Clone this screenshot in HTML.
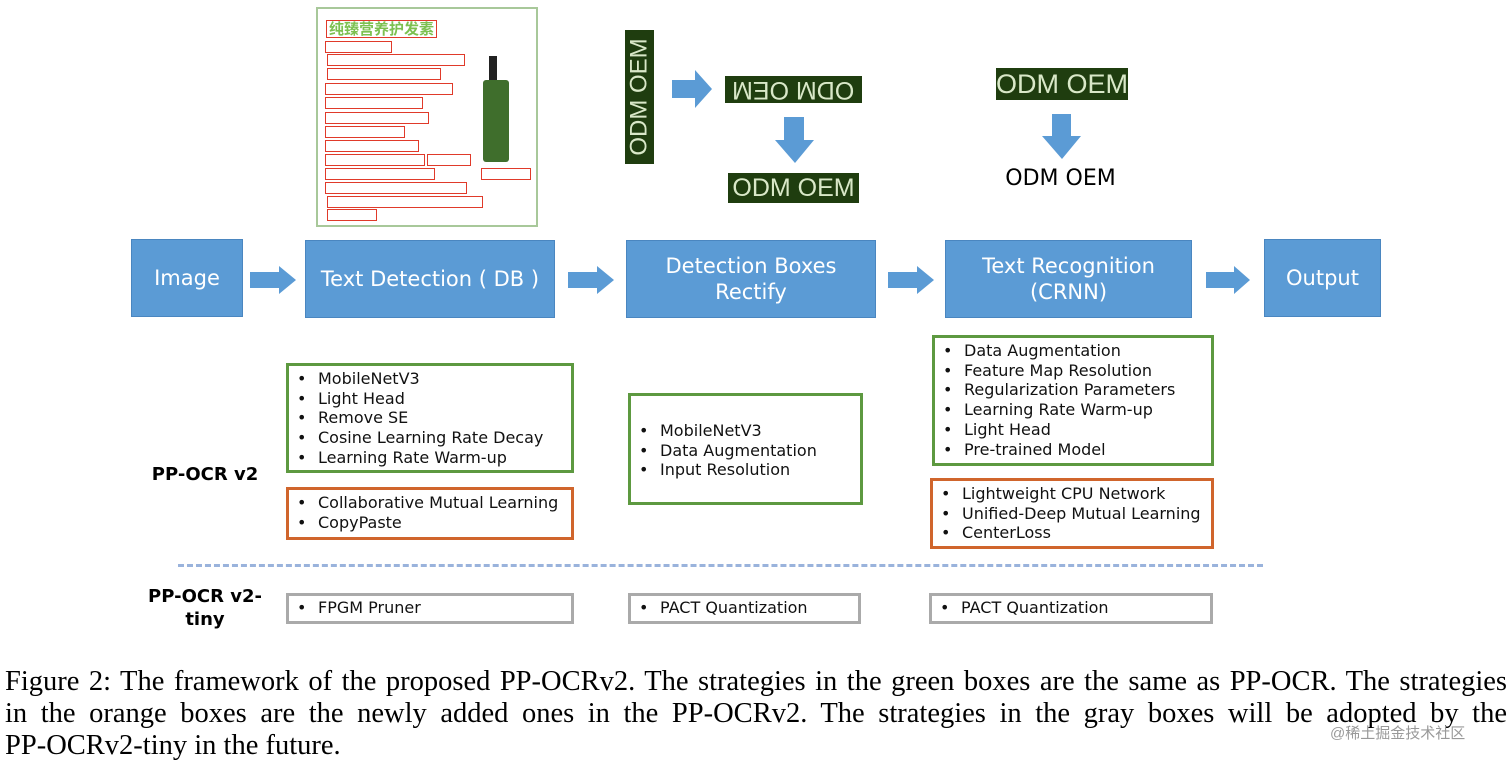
<!DOCTYPE html>
<html><head><meta charset="utf-8"><style>
body{margin:0;width:1512px;height:763px;background:#fff;position:relative;overflow:hidden;font-family:"DejaVu Sans","Liberation Sans",sans-serif}
.a{position:absolute}
.bb{position:absolute;background:#5b9bd5;border:1px solid #4a86c0;color:#fff;font-size:21px;display:flex;align-items:center;justify-content:center;text-align:center;line-height:26px;box-sizing:border-box}
.box{position:absolute;box-sizing:border-box;border:3px solid;font-size:16px;color:#111;line-height:19.7px;padding-left:7px}
.box div{position:relative;padding-left:22px;white-space:nowrap}
.box div:before{content:"•";position:absolute;left:1px}
.g{border-color:#5d9940}.o{border-color:#d0652c}.y{border-color:#aaa}
.odm{position:absolute;background:#1f3d0f;color:#d9e8c8;font-size:25px;font-family:"Liberation Sans",sans-serif;display:flex;align-items:center;justify-content:center;white-space:nowrap;overflow:hidden}
.lab{position:absolute;font-weight:bold;font-size:18px;color:#000;text-align:center}
.cap{position:absolute;left:5px;width:1502px;font-family:"Liberation Serif",serif;font-size:28.5px;color:#000;text-align:justify;text-align-last:justify;white-space:nowrap;line-height:32px}
.rb{position:absolute;border:1.5px solid #e03a2a;height:10px}
</style></head><body>

<div class="a" style="left:316px;top:7px;width:222px;height:220px;border:2px solid #a8c89a;box-sizing:border-box"></div>
<div class="a" style="left:326px;top:20px;font-size:15px;font-weight:bold;color:#7cc050;font-family:'Noto Sans CJK SC',sans-serif;border:1.5px solid #e03a2a;padding:0 2px;line-height:16px">纯臻营养护发素</div>
<div class="rb" style="left:325px;top:41px;width:65px"></div>
<div class="rb" style="left:327px;top:54px;width:136px"></div>
<div class="rb" style="left:327px;top:68px;width:112px"></div>
<div class="rb" style="left:325px;top:83px;width:126px"></div>
<div class="rb" style="left:325px;top:97px;width:96px"></div>
<div class="rb" style="left:325px;top:112px;width:102px"></div>
<div class="rb" style="left:325px;top:126px;width:78px"></div>
<div class="rb" style="left:325px;top:140px;width:92px"></div>
<div class="rb" style="left:325px;top:154px;width:98px"></div>
<div class="rb" style="left:427px;top:154px;width:42px"></div>
<div class="rb" style="left:325px;top:168px;width:108px"></div>
<div class="rb" style="left:481px;top:168px;width:48px"></div>
<div class="rb" style="left:325px;top:182px;width:140px"></div>
<div class="rb" style="left:327px;top:196px;width:154px"></div>
<div class="rb" style="left:327px;top:209px;width:48px"></div>
<div class="a" style="left:489px;top:56px;width:8px;height:30px;background:#222"></div>
<div class="a" style="left:483px;top:80px;width:26px;height:82px;background:#3f6e2c;border-radius:3px"></div>

<div class="odm" style="left:625px;top:30px;width:29px;height:134px"><span style="transform:rotate(-90deg);font-size:24px">ODM OEM</span></div>
<div class="odm" style="left:725px;top:76px;width:137px;height:27px"><span style="transform:scale(-1,-1)">ODM OEM</span></div>
<div class="odm" style="left:728px;top:173px;width:131px;height:30px">ODM OEM</div>
<div class="odm" style="left:996px;top:68px;width:132px;height:32px;font-size:27px">ODM OEM</div>
<div class="a" style="left:988px;top:166px;width:145px;text-align:center;font-size:22px;color:#000">ODM OEM</div>
<svg class="a" style="left:0;top:0" width="1512" height="330">
<g fill="#5b9bd5">
<polygon points="672,80 695,80 695,70 712,89 695,108 695,98 672,98"/>
<polygon points="784,117 804,117 804,140 814,140 795,163 775,140 784,140"/>
<polygon points="1052,114 1071,114 1071,136 1081,136 1062,159 1042,136 1052,136"/>
<polygon points="250,272 279,272 279,266 296,280 279,294 279,288 250,288"/>
<polygon points="568,272 597,272 597,266 614,280 597,294 597,288 568,288"/>
<polygon points="888,272 917,272 917,266 934,280 917,294 917,288 888,288"/>
<polygon points="1206,272 1234,272 1234,266 1250,280 1234,294 1234,288 1206,288"/>
</g></svg>

<div class="bb" style="left:131px;top:239px;width:112px;height:78px">Image</div>
<div class="bb" style="left:305px;top:240px;width:250px;height:78px">Text Detection ( DB )</div>
<div class="bb" style="left:626px;top:240px;width:250px;height:78px">Detection Boxes<br>Rectify</div>
<div class="bb" style="left:945px;top:240px;width:247px;height:78px">Text Recognition<br>(CRNN)</div>
<div class="bb" style="left:1264px;top:239px;width:117px;height:78px">Output</div>

<div class="box g" style="left:286px;top:363px;width:288px;height:110px;padding-top:3px"><div>MobileNetV3</div><div>Light Head</div><div>Remove SE</div><div>Cosine Learning Rate Decay</div><div>Learning Rate Warm-up</div></div>
<div class="box o" style="left:286px;top:487px;width:288px;height:53px;padding-top:3px"><div>Collaborative Mutual Learning</div><div>CopyPaste</div></div>
<div class="box g" style="left:628px;top:393px;width:235px;height:112px;padding-top:25px"><div>MobileNetV3</div><div>Data Augmentation</div><div>Input Resolution</div></div>
<div class="box g" style="left:932px;top:335px;width:282px;height:131px;padding-top:3px"><div>Data Augmentation</div><div>Feature Map Resolution</div><div>Regularization Parameters</div><div>Learning Rate Warm-up</div><div>Light Head</div><div>Pre-trained Model</div></div>
<div class="box o" style="left:930px;top:478px;width:284px;height:71px;padding-top:3px"><div>Lightweight CPU Network</div><div>Unified-Deep Mutual Learning</div><div>CenterLoss</div></div>
<div class="box y" style="left:286px;top:593px;width:288px;height:31px;padding-top:2px"><div>FPGM Pruner</div></div>
<div class="box y" style="left:628px;top:593px;width:233px;height:31px;padding-top:2px"><div>PACT Quantization</div></div>
<div class="box y" style="left:929px;top:593px;width:284px;height:31px;padding-top:2px"><div>PACT Quantization</div></div>

<div class="a" style="left:178px;top:564px;width:1085px;border-top:3px dashed #9ab3dc"></div>
<div class="lab" style="left:140px;top:464px;width:130px">PP-OCR v2</div>
<div class="lab" style="left:140px;top:585px;width:130px;line-height:23px">PP-OCR v2-<br>tiny</div>

<div class="cap" style="top:666px">Figure 2: The framework of the proposed PP-OCRv2. The strategies in the green boxes are the same as PP-OCR. The strategies</div>
<div class="cap" style="top:698px">in the orange boxes are the newly added ones in the PP-OCRv2. The strategies in the gray boxes will be adopted by the</div>
<div class="cap" style="top:730px;text-align-last:left">PP-OCRv2-tiny in the future.</div>
<div class="a" style="left:1330px;top:722px;font-size:15px;color:#999;font-family:'Liberation Sans','Noto Sans CJK SC',sans-serif">@稀土掘金技术社区</div>
</body></html>
